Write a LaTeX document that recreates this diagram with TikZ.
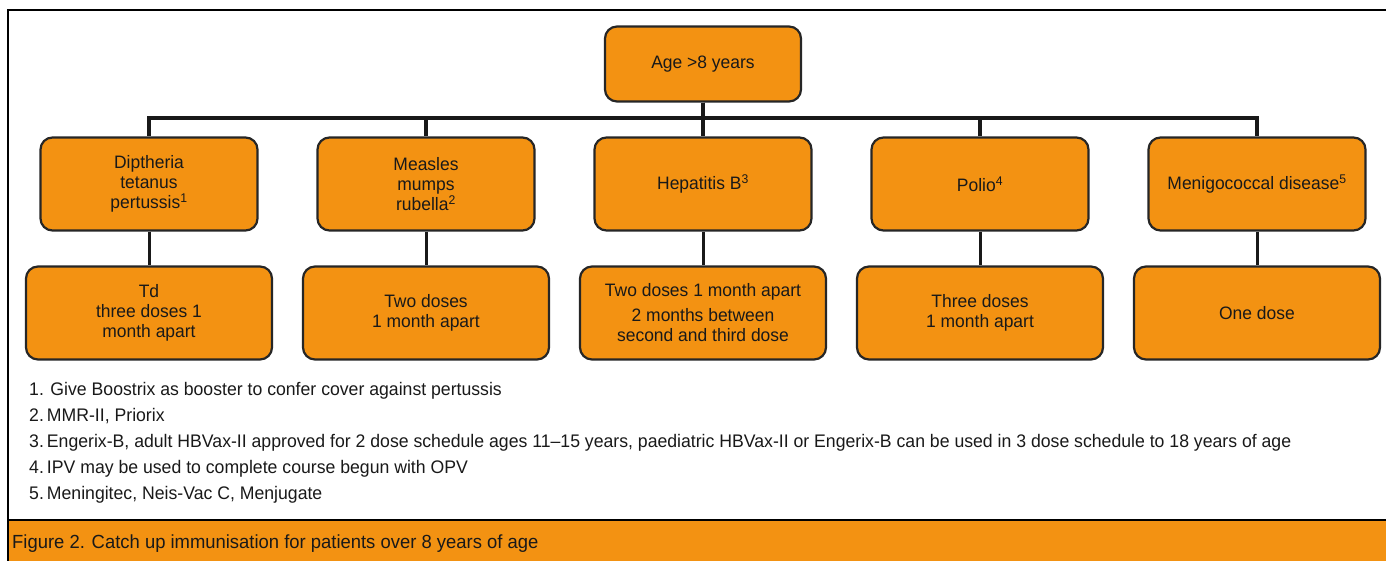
\documentclass[tikz,border=0pt]{standalone}
\usepackage{fontspec}
\setmainfont{Liberation Sans}[FakeStretch=0.97]
\usetikzlibrary{positioning}

\definecolor{vaxorange}{RGB}{243,146,18}

\begin{document}
\begin{tikzpicture}[x=1pt,y=1pt,node distance=277pt,
            box/.style={draw=black!85,line width=2.2pt,fill=vaxorange,rounded corners=12pt,
                minimum width=217pt,minimum height=93pt,align=center,inner sep=0pt,
                text=black!90,font=\fontsize{18}{20}\selectfont},
            dose/.style={box,minimum width=246pt},
            link/.style={line width=3.5pt,draw=black!90}]
            \useasboundingbox (0,0) rectangle (1386,561);

            % frame and caption band
            \fill[vaxorange] (8,0) rectangle (1386,41);
            \draw[line width=1.5pt] (1386,551) -- (8,551) -- (8,0);
            \draw[line width=1.5pt] (8,41) -- (1386,41);

            \node[box,minimum width=196pt,minimum height=75pt] (age) at (703,497) {Age >8 years};

            \node[box] (hep) at (703,377) {Hepatitis B\textsuperscript{3}};
            \node[box] (mmr) [left of=hep] {Measles\\mumps\\rubella\textsuperscript{2}};
            \node[box] (dtp) [left of=mmr] {Diptheria\\tetanus\\pertussis\textsuperscript{1}};
            \node[box] (polio) [right of=hep] {Polio\textsuperscript{4}};
            \node[box] (men) [right of=polio] {Menigococcal disease\textsuperscript{5}};

            \node[dose] (td) [below of=dtp,node distance=129pt] {Td\\three doses 1\\month apart};
            \node[dose] (twodose) [below of=mmr,node distance=129pt] {Two doses\\1 month apart};
            \node[dose] (hepdose) [below of=hep,node distance=129pt] {Two doses 1 month apart\\[5pt]2 months between\\second and third dose};
            \node[dose] (threedose) [below of=polio,node distance=129pt] {Three doses\\1 month apart};
            \node[dose] (onedose) [below of=men,node distance=129pt] {One dose};

            \coordinate (bus) at (703,443);
            \foreach \n in {dtp,mmr,hep,polio,men}
                \draw[link] (age.south) -- (bus) -| (\n.north);
            \foreach \a/\b in {dtp/td,mmr/twodose,hep/hepdose,polio/threedose,men/onedose}
                \draw[link,line width=3pt] (\a.south) -- (\b.north);

            % footnotes
            \node[anchor=north west,align=left,inner sep=0pt,text=black!90,
                font=\fontsize{18.2}{26}\selectfont] (notes) at (29,179)
                {1. Give Boostrix as booster to confer cover against pertussis\\
                 2.\,MMR-II, Priorix\\
                 3.\,Engerix-B, adult HBVax-II approved for 2 dose schedule ages 11--15 years, paediatric HBVax-II or Engerix-B can be used in 3 dose schedule to 18 years of age\\
                 4.\,IPV may be used to complete course begun with OPV\\
                 5.\,Meningitec, Neis-Vac C, Menjugate};

            \node[anchor=west,inner sep=0pt,text=black!90,font=\fontsize{19}{20}\selectfont]
                (caption) at (12,17) {Figure 2. Catch up immunisation for patients over 8 years of age};
\end{tikzpicture}
\end{document}
